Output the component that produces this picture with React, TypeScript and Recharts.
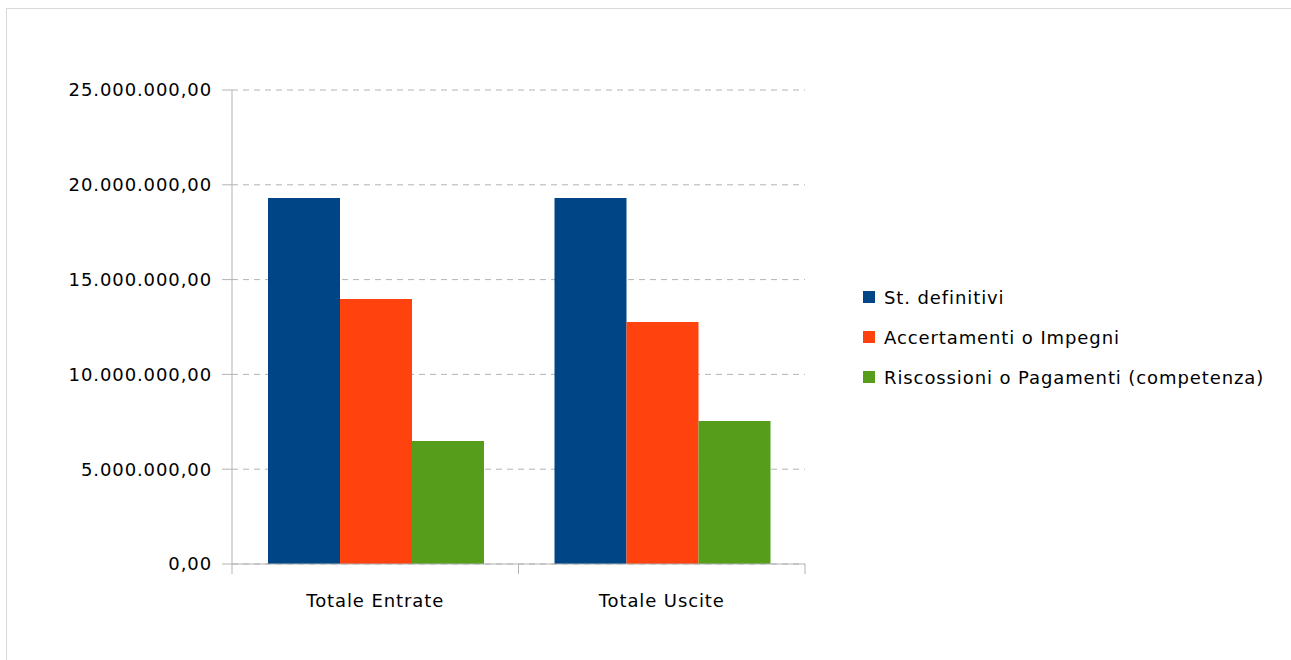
import React from 'react';
import { BarChart, Bar, XAxis, YAxis, CartesianGrid } from 'recharts';

const categories = ['Totale Entrate', 'Totale Uscite'];
const stDefinitivi = [19300000, 19300000];
const accertamentiImpegni = [13980000, 12760000];
const riscossioniPagamenti = [6490000, 7540000];
const yTicks = [0, 5000000, 10000000, 15000000, 20000000, 25000000];

const series = [
  { key: 'stDefinitivi', name: 'St. definitivi', color: '#004586' },
  { key: 'accertamentiImpegni', name: 'Accertamenti o Impegni', color: '#ff420e' },
  { key: 'riscossioniPagamenti', name: 'Riscossioni o Pagamenti (competenza)', color: '#579d1c' },
];

const data = categories.map((name, i) => ({
  name,
  stDefinitivi: stDefinitivi[i],
  accertamentiImpegni: accertamentiImpegni[i],
  riscossioniPagamenti: riscossioniPagamenti[i],
}));

const FONT = '"DejaVu Sans", sans-serif';
const FONT_SIZE = 18;
const SPACING = 0.9;
const AXIS_COLOR = '#b3b3b3';

// 25.000.000,00 style
const formatNumber = (v: number) => {
  const [int, dec] = v.toFixed(2).split('.');
  return int.replace(/\B(?=(\d{3})+(?!\d))/g, '.') + ',' + dec;
};

const ValueTick = (props: any) => {
  const { x, y, payload } = props;
  return (
    <text
      x={x}
      y={y}
      dy="0.36em"
      textAnchor="end"
      fill="#000"
      fontSize={FONT_SIZE}
      fontFamily={FONT}
      letterSpacing={SPACING}
    >
      {formatNumber(payload.value)}
    </text>
  );
};

// category tick: label centred, tick marks on the band edges
const CategoryTick = (props: any) => {
  const { x, y, payload, index, visibleTicksCount } = props;
  const half = payload.offset ?? 0;
  const top = y - 20;
  return (
    <g>
      <line x1={x - half} x2={x - half} y1={top} y2={top + 10} stroke={AXIS_COLOR} />
      {index === visibleTicksCount - 1 && (
        <line x1={x + half} x2={x + half} y1={top} y2={top + 10} stroke={AXIS_COLOR} />
      )}
      <text
        x={x}
        y={y + 23}
        textAnchor="middle"
        fill="#000"
        fontSize={FONT_SIZE}
        fontFamily={FONT}
        letterSpacing={SPACING}
      >
        {payload.value}
      </text>
    </g>
  );
};

export default function App() {
  return (
    <div style={{ position: 'fixed', left: 0, top: 0, width: 1291, height: 660, background: '#fff' }}>
      <div
        style={{
          position: 'absolute',
          left: 6,
          top: 8,
          width: 1285,
          height: 652,
          borderLeft: '1px solid #d9d9d9',
          borderTop: '1px solid #d9d9d9',
          boxSizing: 'border-box',
        }}
      />
      <div style={{ position: 'absolute', left: 0, top: 0 }}>
        <BarChart
          width={1291}
          height={660}
          data={data}
          margin={{ top: 90, right: 486, bottom: 0, left: 0 }}
          barCategoryGap={36}
          barGap={0}
        >
          <CartesianGrid horizontal vertical={false} stroke={AXIS_COLOR} strokeDasharray="6 5" />
          <XAxis
            dataKey="name"
            height={96}
            axisLine={{ stroke: AXIS_COLOR }}
            tickLine={false}
            tickSize={10}
            tickMargin={10}
            tick={<CategoryTick />}
            interval={0}
          />
          <YAxis
            width={232}
            domain={[0, 25000000]}
            ticks={yTicks}
            axisLine={{ stroke: AXIS_COLOR }}
            tickLine={{ stroke: AXIS_COLOR }}
            tickSize={10}
            tickMargin={10}
            tick={<ValueTick />}
            interval={0}
          />
          {series.map((s) => (
            <Bar key={s.key} dataKey={s.key} name={s.name} fill={s.color} isAnimationActive={false} />
          ))}
        </BarChart>
      </div>
      <div
        style={{
          position: 'absolute',
          left: 863,
          top: 277,
          fontFamily: FONT,
          fontSize: FONT_SIZE,
          letterSpacing: SPACING,
          color: '#000',
        }}
      >
        {series.map((s) => (
          <div key={s.key} style={{ display: 'flex', alignItems: 'center', height: 40, whiteSpace: 'nowrap' }}>
            <span style={{ display: 'inline-block', width: 12, height: 12, background: s.color, marginRight: 9 }} />
            <span>{s.name}</span>
          </div>
        ))}
      </div>
    </div>
  );
}
